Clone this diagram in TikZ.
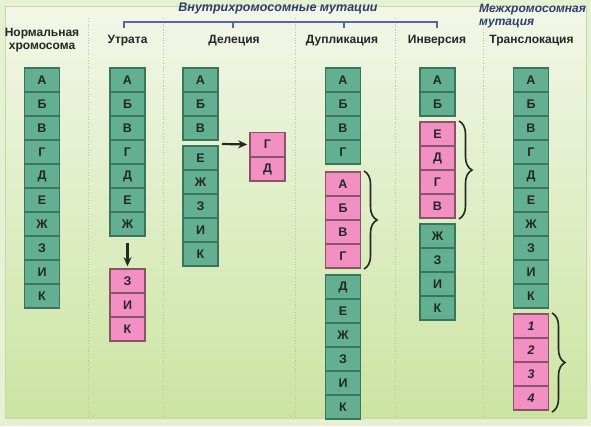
\documentclass[tikz,border=0pt]{standalone}
\usepackage{fontspec}
\setmainfont{Liberation Sans}
\usetikzlibrary{decorations.pathreplacing,arrows.meta}
\definecolor{cg}{HTML}{62AF91}
\definecolor{cgd}{HTML}{3A755D}
\definecolor{cp}{HTML}{F290C4}
\definecolor{cpd}{HTML}{8A5468}
\definecolor{bgA}{HTML}{F2F7E8}
\definecolor{bgB}{HTML}{CCE4A2}
\definecolor{framec}{HTML}{E6F0D3}
\definecolor{framel}{HTML}{C5D9A6}
\definecolor{hdr}{HTML}{2E3D6B}
\definecolor{brk}{HTML}{5A66A0}
\definecolor{sepc}{HTML}{B9C6A6}
\begin{document}
\begin{tikzpicture}[x=1pt,y=-1pt,
  cell/.style={draw=cgd, line width=1.6pt, fill=cg, minimum width=35pt, minimum height=24pt, inner sep=0pt, font=\fontsize{12.5}{12.5}\selectfont\bfseries, text=black!85},
  pcell/.style={cell, draw=cpd, fill=cp},
  hd/.style={font=\fontsize{12}{12.5}\selectfont\bfseries, text=black!85, align=center, inner sep=0pt},
  ihd/.style={font=\fontsize{12.5}{13.5}\selectfont\bfseries\itshape, text=hdr, inner sep=0pt},
  arr/.style={line width=2.2pt, black!85, -{Stealth[length=9pt,width=8pt]}},
  brc/.style={decorate, decoration={brace, amplitude=13pt}, line width=1.6pt, black!85},
  sepl/.style={sepc, line width=0.8pt, dotted},
  brkl/.style={brk, line width=1.8pt}]
\useasboundingbox (0,0) rectangle (591,426);
\fill[framec] (0,0) rectangle (591,426);
\shade[top color=bgA, bottom color=bgB] (5,6) rectangle (586,418);
\draw[framel, line width=0.6pt] (5,6) rectangle (586,418);
% separators
\foreach \x in {88,163,295,395,483} \draw[sepl] (\x,18) -- (\x,416);
% headers
\node[ihd] (hIntra) at (278,8) {Внутрихромосомные мутации};
\node[ihd, anchor=north west, align=left, font=\fontsize{12}{13.5}\selectfont\bfseries\itshape] (hInter) at (479,4) {Межхромосомная\\мутация};
\node[hd] (hN) at (42,40) {Нормальная\\хромосома};
\node[hd] (hU) at (127.5,41) {Утрата};
\node[hd] (hD) at (234,41) {Делеция};
\node[hd] (hDu) at (342,41) {Дупликация};
\node[hd] (hI) at (437,41) {Инверсия};
\node[hd] (hT) at (531.5,41) {Транслокация};
% bracket over intrachromosomal
\draw[brkl] (124,28) -- (124,22) -- (437,22) -- (437,28);
\draw[brkl] (233,22) -- (233,27.5);
\draw[brkl] (344,22) -- (344,27.5);
% normal
\foreach \l [count=\i] in {А,Б,В,Г,Д,Е,Ж,З,И,К} \node[cell] (n\i) at (42,56+24*\i) {\l};
% loss
\foreach \l [count=\i] in {А,Б,В,Г,Д,Е,Ж} \node[cell] (u\i) at (127.5,56+24*\i) {\l};
\foreach \l [count=\i] in {З,И,К} \node[pcell] (up\i) at (127.5,257+24*\i) {\l};
\draw[arr, shorten <=6pt, shorten >=2pt] (u7.south) -- (up1.north);
% deletion
\foreach \l [count=\i] in {А,Б,В} \node[cell] (d\i) at (200.5,56+24*\i) {\l};
\foreach \l [count=\i] in {Е,Ж,З,И,К} \node[cell] (dl\i) at (200.5,134+24*\i) {\l};
\foreach \l [count=\i] in {Г,Д} \node[pcell] (dp\i) at (267.5,120+24.5*\i) {\l};
\coordinate (dstart) at (222,144);
\draw[arr, shorten >=2pt] (dstart) -- (dp1.west);
% duplication
\foreach \l [count=\i] in {А,Б,В,Г} \node[cell] (du\i) at (343,56+24*\i) {\l};
\foreach \l [count=\i] in {А,Б,В,Г} \node[pcell] (dup\i) at (343,160+24*\i) {\l};
\foreach \l [count=\i] in {Д,Е,Ж,З,И,К} \node[cell] (dul\i) at (343,263+24*\i) {\l};
\draw[brc] (364,171) -- (364,269);
% inversion
\foreach \l [count=\i] in {А,Б} \node[cell] (i\i) at (437.5,56+24*\i) {\l};
\foreach \l [count=\i] in {Е,Д,Г,В} \node[pcell] (ip\i) at (437.5,110+24*\i) {\l};
\foreach \l [count=\i] in {Ж,З,И,К} \node[cell] (il\i) at (437.5,212+24*\i) {\l};
\draw[brc] (459,121) -- (459,219);
% translocation
\foreach \l [count=\i] in {А,Б,В,Г,Д,Е,Ж,З,И,К} \node[cell] (t\i) at (531,56+24*\i) {\l};
\foreach \l [count=\i] in {1,2,3,4} \node[pcell, font=\fontsize{12.5}{12.5}\selectfont\bfseries\itshape] (tp\i) at (531,302+24*\i) {\l};
\draw[brc] (552,313) -- (552,412);
\end{tikzpicture}
\end{document}
